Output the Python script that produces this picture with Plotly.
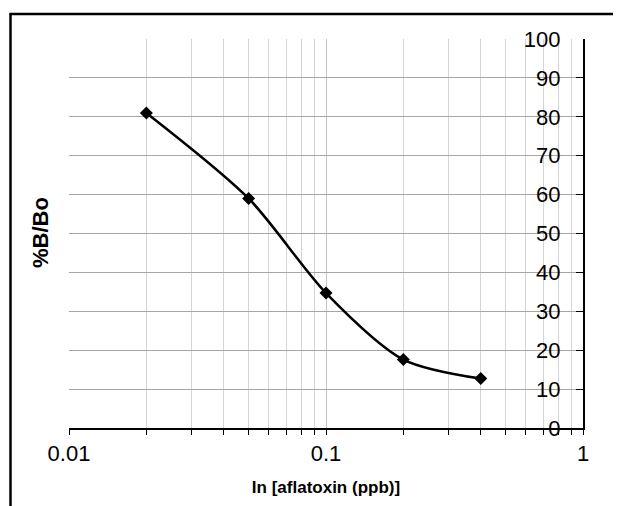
import plotly.graph_objects as go

conc = [0.02, 0.05, 0.1, 0.2, 0.4]
pct_b_bo = [81.0, 59.0, 34.7, 17.6, 12.7]
x_tick_vals = [0.01, 0.1, 1]
x_tick_text = ["0.01", "0.1", "1"]
y_tick_vals = [0, 10, 20, 30, 40, 50, 60, 70, 80, 90, 100]

# page body adds an 8px offset; figure is sized to fit the 621x506 window
OFF = 8
W, H = 621 - OFF, 506 - OFF
# plot area in window pixels: x 69..583, y 39..428
L, R, T, B = 69 - OFF, 621 - 583, 39 - OFF, 506 - 428
pw, ph = W - L - R, H - T - B

def px_x(p):
    return (p - OFF - L) / pw

def px_y(p):
    return (H - B - (p - OFF)) / ph

fig = go.Figure()
fig.add_trace(go.Scatter(
    x=conc, y=pct_b_bo, mode="lines+markers",
    line=dict(color="black", width=2.5, shape="spline", smoothing=0.8),
    marker=dict(symbol="diamond", size=10, color="black"),
    showlegend=False,
))

font = "Liberation Sans, Arial, sans-serif"
fig.update_layout(
    width=W, height=H,
    margin=dict(l=L, r=R, t=T, b=B, autoexpand=False),
    paper_bgcolor="white", plot_bgcolor="white",
    font=dict(family=font, size=22, color="black"),
    xaxis=dict(
        type="log", range=[-2, 0.00001],
        tickvals=x_tick_vals, ticktext=x_tick_text,
        tickfont=dict(family=font, size=22, color="black"),
        ticks="outside", ticklen=5, tickcolor="black",
        showline=True, linecolor="black", linewidth=2,
        showgrid=True, gridcolor="#c4c4c4", gridwidth=1,
        minor=dict(dtick="D1", ticks="outside", ticklen=5, tickcolor="black",
                   showgrid=True, gridcolor="#d4d4d4", gridwidth=1),
        ticklabelstandoff=0, ticklabeloverflow="allow",
        zeroline=False, automargin=False,
        title=dict(text="<b>In [aflatoxin (ppb)]</b>",
                   font=dict(family=font, size=17, color="black"), standoff=16),
    ),
    yaxis=dict(
        range=[0, 100], side="right",
        tickvals=y_tick_vals,
        tickfont=dict(family=font, size=22, color="black"),
        ticks="inside", ticklen=7, tickcolor="black",
        ticklabelposition="inside", ticklabeloverflow="allow",
        ticklabelstandoff=17,
        showline=True, linecolor="black", linewidth=2,
        showgrid=True, gridcolor="#a6a6a6", gridwidth=1,
        zeroline=False, automargin=False,
    ),
    shapes=[
        dict(type="line", xref="paper", yref="paper",
             x0=px_x(10.5), x1=px_x(10.5), y0=px_y(13.5), y1=px_y(510),
             line=dict(color="black", width=2.5)),
        dict(type="line", xref="paper", yref="paper",
             x0=px_x(9.5), x1=px_x(625), y0=px_y(14), y1=px_y(14),
             line=dict(color="black", width=2.5)),
    ],
    annotations=[
        dict(text="<b>%B/Bo</b>", xref="paper", yref="paper",
             x=px_x(40), y=px_y(233), textangle=-90, showarrow=False,
             font=dict(family=font, size=22, color="black"),
             xanchor="center", yanchor="middle"),
    ],
)

fig.write_html("out.html")
